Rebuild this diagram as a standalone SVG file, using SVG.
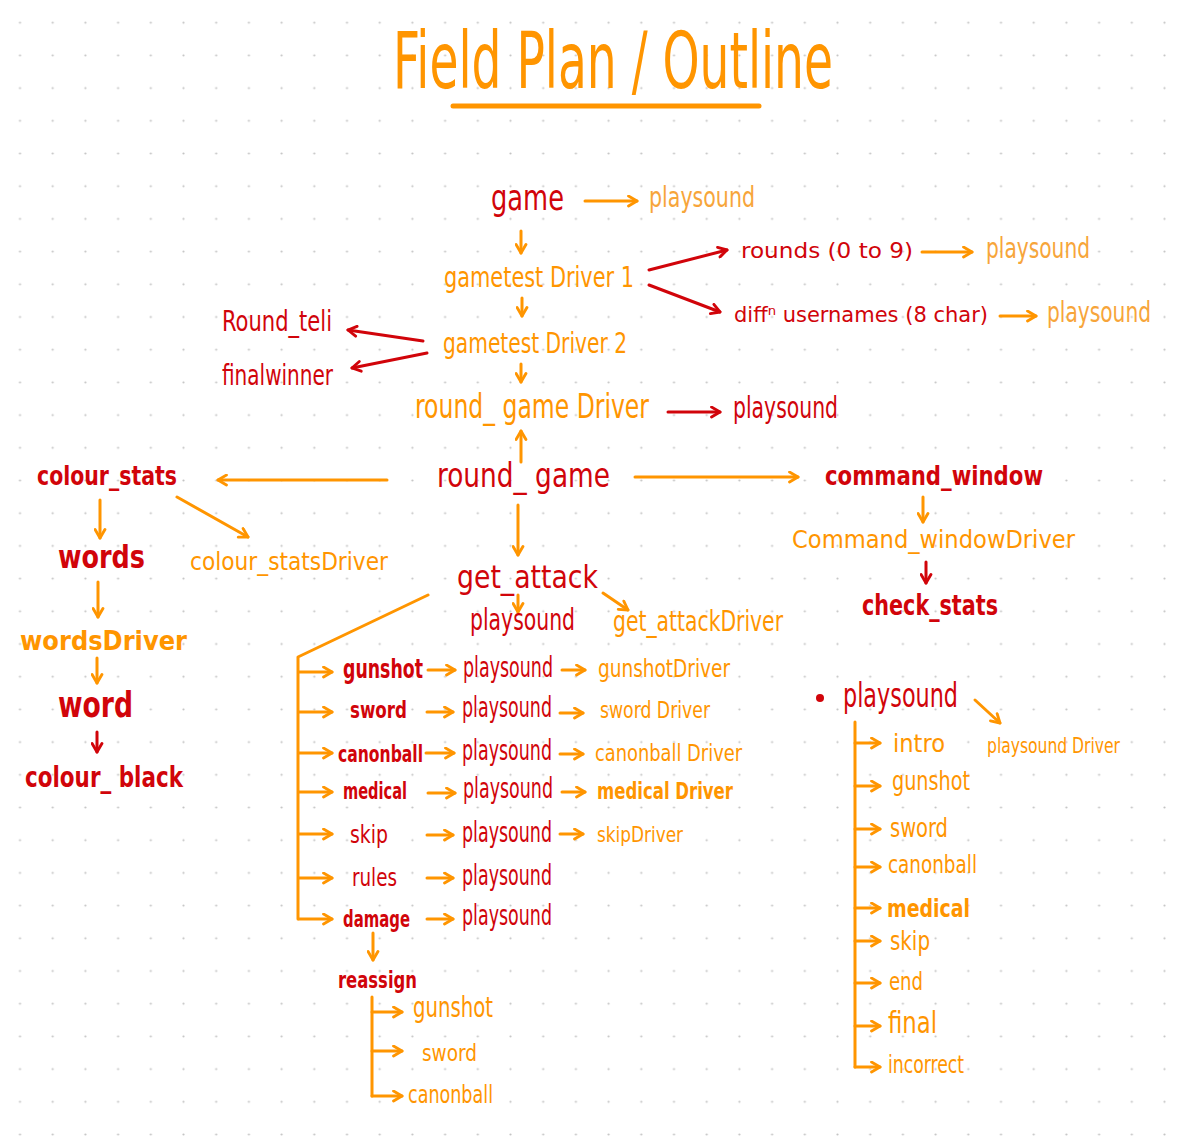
<svg xmlns="http://www.w3.org/2000/svg" width="1182" height="1143" viewBox="0 0 1182 1143">
<defs>
<pattern id="dots" x="3.65" y="6.35" width="32.7" height="32.7" patternUnits="userSpaceOnUse">
<circle cx="16.35" cy="16.35" r="1.1" fill="#c4c4c4"/>
</pattern>
<marker id="mo" viewBox="0 0 10 10" refX="8.5" refY="5" markerWidth="13" markerHeight="13" markerUnits="userSpaceOnUse" orient="auto">
<path d="M2,1.2 L8.5,5 L2,8.8" fill="none" stroke="#ff9500" stroke-width="2.2" stroke-linecap="round" stroke-linejoin="round"/>
</marker>
<marker id="mr" viewBox="0 0 10 10" refX="8.5" refY="5" markerWidth="13" markerHeight="13" markerUnits="userSpaceOnUse" orient="auto">
<path d="M2,1.2 L8.5,5 L2,8.8" fill="none" stroke="#d1040a" stroke-width="2.2" stroke-linecap="round" stroke-linejoin="round"/>
</marker>
</defs>
<style>
text{font-family:"Liberation Sans Narrow","DejaVu Sans Condensed","Liberation Sans",sans-serif;}
.r{fill:#d1040a}
.o{fill:#ff9500}
.lt{fill:#f7a53a}
.b{font-weight:bold}
.ao{fill:none;stroke:#ff9500;stroke-width:3;stroke-linecap:round;stroke-linejoin:round;marker-end:url(#mo)}
.ar{fill:none;stroke:#d1040a;stroke-width:3;stroke-linecap:round;stroke-linejoin:round;marker-end:url(#mr)}
.lo{fill:none;stroke:#ff9500;stroke-width:3;stroke-linecap:round;stroke-linejoin:round}
</style>
<rect width="1182" height="1143" fill="#ffffff"/>
<rect width="1182" height="1143" fill="url(#dots)"/>

<g id="title">
<text class="o" x="393" y="88" font-size="78" textLength="440" lengthAdjust="spacingAndGlyphs">Field Plan / Outline</text>
<path d="M453,106 H759" fill="none" stroke="#ff9500" stroke-width="5" stroke-linecap="round"/>
</g>

<g id="connectors">
<path class="ao" d="M585,201 H637"/>
<path class="ao" d="M521,231 V253"/>
<path class="ao" d="M522,298 V316"/>
<path class="ao" d="M521,364 V382"/>
<path class="ao" d="M521,462 V431"/>
<path class="ao" d="M387,480 H218"/>
<path class="ao" d="M635,477 H798"/>
<path class="ao" d="M518,505 V555"/>
<path class="ao" d="M922,252 H972"/>
<path class="ao" d="M1000,316 H1036"/>
<path class="ao" d="M923,497 V522"/>
<path class="ao" d="M100,500 V538"/>
<path class="ao" d="M177,497 L248,537"/>
<path class="ao" d="M98,582 V617"/>
<path class="ao" d="M97,658 V683"/>
<path class="ao" d="M518,595 V612"/>
<path class="ao" d="M603,593 L628,610"/>
<path class="lo" d="M428,595 L298,657 V919"/>
<path class="ao" d="M299,672 H332"/>
<path class="ao" d="M299,712 H332"/>
<path class="ao" d="M299,753 H332"/>
<path class="ao" d="M299,792 H332"/>
<path class="ao" d="M299,834 H332"/>
<path class="ao" d="M299,878 H332"/>
<path class="ao" d="M299,919 H332"/>
<path class="ao" d="M428,670 H455"/>
<path class="ao" d="M427,712 H453"/>
<path class="ao" d="M426,753 H454"/>
<path class="ao" d="M428,793 H455"/>
<path class="ao" d="M427,835 H453"/>
<path class="ao" d="M427,878 H453"/>
<path class="ao" d="M427,919 H453"/>
<path class="ao" d="M562,670 H585"/>
<path class="ao" d="M560,713 H583"/>
<path class="ao" d="M560,754 H583"/>
<path class="ao" d="M562,792 H585"/>
<path class="ao" d="M560,834 H583"/>
<path class="ao" d="M373,933 V960"/>
<path class="lo" d="M372,997 V1096"/>
<path class="ao" d="M372,1012 H402"/>
<path class="ao" d="M372,1051 H402"/>
<path class="ao" d="M372,1096 H402"/>
<path class="lo" d="M855,722 V1067"/>
<path class="ao" d="M855,743 H880"/>
<path class="ao" d="M855,786 H880"/>
<path class="ao" d="M855,829 H880"/>
<path class="ao" d="M855,867 H880"/>
<path class="ao" d="M855,908 H880"/>
<path class="ao" d="M855,941 H880"/>
<path class="ao" d="M855,983 H880"/>
<path class="ao" d="M855,1026 H880"/>
<path class="ao" d="M855,1067 H880"/>
<path class="ao" d="M975,700 L1000,723"/>
<path class="ar" d="M649,270 L727,250"/>
<path class="ar" d="M649,285 L720,312"/>
<path class="ar" d="M423,341 L348,330"/>
<path class="ar" d="M427,353 L352,368"/>
<path class="ar" d="M668,412 H720"/>
<path class="ar" d="M926,562 V583"/>
<path class="ar" d="M97,732 V752"/>
</g>

<g id="n-game"><text class="r" x="491" y="210" font-size="36" textLength="73" lengthAdjust="spacingAndGlyphs">game</text></g>
<g id="n-game-ps"><text class="lt" x="649" y="207" font-size="28" textLength="106" lengthAdjust="spacingAndGlyphs">playsound</text></g>
<g id="n-gd1"><text class="o" x="444" y="287" font-size="28" textLength="190" lengthAdjust="spacingAndGlyphs">gametest Driver 1</text></g>
<g id="n-rounds"><text class="r" x="741" y="258" font-size="22" textLength="172" lengthAdjust="spacingAndGlyphs">rounds  (0 to 9)</text></g>
<g id="n-rounds-ps"><text class="lt" x="986" y="258" font-size="28" textLength="104" lengthAdjust="spacingAndGlyphs">playsound</text></g>
<g id="n-diff"><text class="r" x="734" y="322" font-size="22" textLength="254" lengthAdjust="spacingAndGlyphs">diffⁿ usernames  (8 char)</text></g>
<g id="n-diff-ps"><text class="lt" x="1047" y="322" font-size="28" textLength="104" lengthAdjust="spacingAndGlyphs">playsound</text></g>
<g id="n-gd2"><text class="o" x="443" y="353" font-size="28" textLength="184" lengthAdjust="spacingAndGlyphs">gametest Driver 2</text></g>
<g id="n-roundteli"><text class="r" x="222" y="331" font-size="29" textLength="110" lengthAdjust="spacingAndGlyphs">Round_teli</text></g>
<g id="n-finalwinner"><text class="r" x="222" y="385" font-size="29" textLength="111" lengthAdjust="spacingAndGlyphs">finalwinner</text></g>
<g id="n-rgd"><text class="o" x="415" y="418" font-size="33" textLength="234" lengthAdjust="spacingAndGlyphs">round_ game Driver</text></g>
<g id="n-rgd-ps"><text class="r" x="733" y="418" font-size="30" textLength="105" lengthAdjust="spacingAndGlyphs">playsound</text></g>
<g id="n-roundgame"><text class="r" x="437" y="487" font-size="34" textLength="173" lengthAdjust="spacingAndGlyphs">round_ game</text></g>
<g id="n-colourstats"><text class="r b" x="37" y="485" font-size="26" textLength="140" lengthAdjust="spacingAndGlyphs">colour_stats</text></g>
<g id="n-csd"><text class="o" x="190" y="570" font-size="25" textLength="198" lengthAdjust="spacingAndGlyphs">colour_statsDriver</text></g>
<g id="n-words"><text class="r b" x="58" y="568" font-size="32" textLength="87" lengthAdjust="spacingAndGlyphs">words</text></g>
<g id="n-wordsdriver"><text class="o b" x="20" y="650" font-size="27" textLength="167" lengthAdjust="spacingAndGlyphs">wordsDriver</text></g>
<g id="n-word"><text class="r b" x="58" y="717" font-size="36" textLength="75" lengthAdjust="spacingAndGlyphs">word</text></g>
<g id="n-colourblack"><text class="r b" x="25" y="787" font-size="28" textLength="158" lengthAdjust="spacingAndGlyphs">colour_ black</text></g>
<g id="n-cmdwin"><text class="r b" x="825" y="485" font-size="26" textLength="218" lengthAdjust="spacingAndGlyphs">command_window</text></g>
<g id="n-cmdwind"><text class="o" x="792" y="548" font-size="25" textLength="283" lengthAdjust="spacingAndGlyphs">Command_windowDriver</text></g>
<g id="n-checkstats"><text class="r b" x="862" y="615" font-size="29" textLength="136" lengthAdjust="spacingAndGlyphs">check_stats</text></g>
<g id="n-getattack"><text class="r" x="457" y="588" font-size="32" textLength="141" lengthAdjust="spacingAndGlyphs">get_attack</text></g>
<g id="n-ga-ps"><text class="r" x="470" y="630" font-size="30" textLength="105" lengthAdjust="spacingAndGlyphs">playsound</text></g>
<g id="n-gad"><text class="o" x="613" y="631" font-size="28" textLength="170" lengthAdjust="spacingAndGlyphs">get_attackDriver</text></g>

<g id="n-gunshot"><text class="r b" x="343" y="678" font-size="26" textLength="80" lengthAdjust="spacingAndGlyphs">gunshot</text></g>
<g id="n-gunshot-ps"><text class="r" x="463" y="677" font-size="28" textLength="90" lengthAdjust="spacingAndGlyphs">playsound</text></g>
<g id="n-gunshot-d"><text class="o" x="598" y="677" font-size="25" textLength="132" lengthAdjust="spacingAndGlyphs">gunshotDriver</text></g>
<g id="n-sword"><text class="r b" x="350" y="718" font-size="23" textLength="57" lengthAdjust="spacingAndGlyphs">sword</text></g>
<g id="n-sword-ps"><text class="r" x="462" y="717" font-size="28" textLength="90" lengthAdjust="spacingAndGlyphs">playsound</text></g>
<g id="n-sword-d"><text class="o" x="600" y="718" font-size="23" textLength="110" lengthAdjust="spacingAndGlyphs">sword Driver</text></g>
<g id="n-canonball"><text class="r b" x="338" y="762" font-size="23" textLength="85" lengthAdjust="spacingAndGlyphs">canonball</text></g>
<g id="n-canonball-ps"><text class="r" x="462" y="760" font-size="28" textLength="90" lengthAdjust="spacingAndGlyphs">playsound</text></g>
<g id="n-canonball-d"><text class="o" x="595" y="761" font-size="23" textLength="147" lengthAdjust="spacingAndGlyphs">canonball Driver</text></g>
<g id="n-medical"><text class="r b" x="343" y="799" font-size="23" textLength="64" lengthAdjust="spacingAndGlyphs">medical</text></g>
<g id="n-medical-ps"><text class="r" x="463" y="798" font-size="28" textLength="90" lengthAdjust="spacingAndGlyphs">playsound</text></g>
<g id="n-medical-d"><text class="o b" x="597" y="799" font-size="23" textLength="136" lengthAdjust="spacingAndGlyphs">medical Driver</text></g>
<g id="n-skip"><text class="r" x="350" y="843" font-size="25" textLength="38" lengthAdjust="spacingAndGlyphs">skip</text></g>
<g id="n-skip-ps"><text class="r" x="462" y="842" font-size="28" textLength="90" lengthAdjust="spacingAndGlyphs">playsound</text></g>
<g id="n-skip-d"><text class="o" x="597" y="842" font-size="22" textLength="86" lengthAdjust="spacingAndGlyphs">skipDriver</text></g>
<g id="n-rules"><text class="r" x="352" y="886" font-size="24" textLength="45" lengthAdjust="spacingAndGlyphs">rules</text></g>
<g id="n-rules-ps"><text class="r" x="462" y="885" font-size="28" textLength="90" lengthAdjust="spacingAndGlyphs">playsound</text></g>
<g id="n-damage"><text class="r b" x="343" y="927" font-size="23" textLength="67" lengthAdjust="spacingAndGlyphs">damage</text></g>
<g id="n-damage-ps"><text class="r" x="462" y="925" font-size="28" textLength="90" lengthAdjust="spacingAndGlyphs">playsound</text></g>
<g id="n-reassign"><text class="r b" x="338" y="988" font-size="23" textLength="79" lengthAdjust="spacingAndGlyphs">reassign</text></g>
<g id="n-re-gunshot"><text class="o" x="413" y="1017" font-size="28" textLength="80" lengthAdjust="spacingAndGlyphs">gunshot</text></g>
<g id="n-re-sword"><text class="o" x="422" y="1061" font-size="23" textLength="55" lengthAdjust="spacingAndGlyphs">sword</text></g>
<g id="n-re-canonball"><text class="o" x="408" y="1103" font-size="24" textLength="85" lengthAdjust="spacingAndGlyphs">canonball</text></g>

<g id="n-ps"><circle cx="820" cy="698" r="4" fill="#d1040a"/><text class="r" x="843" y="707" font-size="34" textLength="115" lengthAdjust="spacingAndGlyphs">playsound</text></g>
<g id="n-psd"><text class="o" x="987" y="753" font-size="22" textLength="133" lengthAdjust="spacingAndGlyphs">playsound Driver</text></g>
<g id="n-ps-intro"><text class="o" x="893" y="752" font-size="25" textLength="52" lengthAdjust="spacingAndGlyphs">intro</text></g>
<g id="n-ps-gunshot"><text class="o" x="892" y="790" font-size="26" textLength="78" lengthAdjust="spacingAndGlyphs">gunshot</text></g>
<g id="n-ps-sword"><text class="o" x="890" y="837" font-size="26" textLength="58" lengthAdjust="spacingAndGlyphs">sword</text></g>
<g id="n-ps-canonball"><text class="o" x="888" y="873" font-size="24" textLength="89" lengthAdjust="spacingAndGlyphs">canonball</text></g>
<g id="n-ps-medical"><text class="o b" x="887" y="917" font-size="25" textLength="83" lengthAdjust="spacingAndGlyphs">medical</text></g>
<g id="n-ps-skip"><text class="o" x="890" y="950" font-size="26" textLength="40" lengthAdjust="spacingAndGlyphs">skip</text></g>
<g id="n-ps-end"><text class="o" x="889" y="990" font-size="24" textLength="34" lengthAdjust="spacingAndGlyphs">end</text></g>
<g id="n-ps-final"><text class="o" x="888" y="1033" font-size="30" textLength="49" lengthAdjust="spacingAndGlyphs">final</text></g>
<g id="n-ps-incorrect"><text class="o" x="888" y="1073" font-size="24" textLength="76" lengthAdjust="spacingAndGlyphs">incorrect</text></g>
</svg>
